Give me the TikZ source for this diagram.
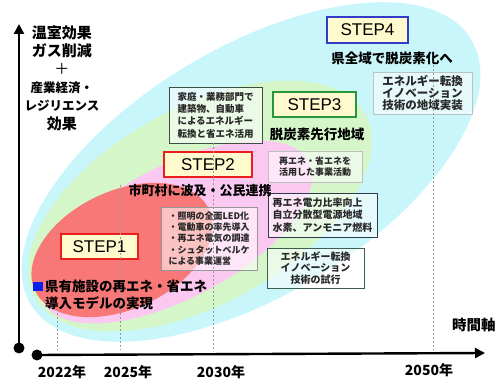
\documentclass[tikz,border=0pt]{standalone}
\usepackage{fontspec}
\setmainfont{Noto Sans CJK JP}
\newfontfamily\stepfont{Liberation Sans}
\usetikzlibrary{arrows.meta}
\definecolor{ecyan}{RGB}{200,246,250}
\definecolor{egreen}{RGB}{212,246,200}
\definecolor{epink}{RGB}{250,200,240}
\definecolor{ered}{RGB}{248,120,120}
\definecolor{stepfill}{RGB}{255,250,205}
\definecolor{stepblue}{RGB}{50,60,200}
\definecolor{stepgreen}{RGB}{40,150,60}
\definecolor{stepred}{RGB}{235,30,30}
\definecolor{bA}{RGB}{60,80,65}
\definecolor{bB}{RGB}{190,190,190}
\definecolor{bC}{RGB}{45,60,80}
\definecolor{bD}{RGB}{150,150,150}
\definecolor{bE}{RGB}{60,95,80}
\definecolor{bF}{RGB}{185,195,195}
\definecolor{sqblue}{RGB}{10,30,240}
\definecolor{boxtext}{RGB}{40,40,40}
\begin{document}
\begin{tikzpicture}[x=1pt,y=-1pt,
  stepbox/.style={draw, line width=1.4pt, fill=stepfill, inner sep=0pt,
    font=\stepfont\fontsize{17}{17}\selectfont},
  infobox/.style={draw, line width=0.8pt, fill=white, fill opacity=0.55, text opacity=1,
    inner sep=0pt, text=boxtext},
  biglabel/.style={font=\fontsize{13.5}{17}\selectfont\bfseries, inner sep=0pt},
  yearlabel/.style={font=\fontsize{14}{14}\selectfont\bfseries, inner sep=0pt},
  axis/.style={line width=2.4pt, -{Triangle[width=10pt,length=10pt]}},
  vdash/.style={gray!80, line width=0.6pt, dash pattern=on 2pt off 2pt}
]
\useasboundingbox (0,0) rectangle (496,379);

% ellipses
\fill[ecyan, rotate around={31:(251,172)}] (251,172) ellipse [x radius=257pt, y radius=124pt];
\fill[egreen, rotate around={29:(200,206)}] (200,206) ellipse [x radius=189pt, y radius=98pt];
\fill[epink, rotate around={28:(176,232)}] (176,232) ellipse [x radius=150pt, y radius=66pt];
\fill[ered, rotate around={25:(122,250)}] (122,250) ellipse [x radius=96pt, y radius=59pt];

% info boxes
\node[infobox, draw=bA, minimum width=93pt, minimum height=56pt, align=left,
  font=\fontsize{9.5}{12.3}\selectfont\bfseries] (boxA) at (215.5,115)
  {家庭・業務部門で\\建築物、自動車\\によるエネルギー\\転換と省エネ活用};
\node[infobox, draw=bB, minimum width=94pt, minimum height=31pt, align=center,
  font=\fontsize{9}{11}\selectfont\bfseries] (boxB) at (315,166.5)
  {再エネ・省エネを\\活用した事業活動};
\node[infobox, draw=bC, minimum width=109pt, minimum height=44pt, align=left,
  font=\fontsize{10}{12.5}\selectfont\bfseries] (boxC) at (322.5,215)
  {再エネ電力比率向上\\自立分散型電源地域\\水素、アンモニア燃料};
\node[infobox, draw=bD, minimum width=96pt, minimum height=63pt, align=left,
  font=\fontsize{9}{11.3}\selectfont\bfseries] (boxD) at (209,238.5)
  {・照明の全面LED化\\・電動車の率先導入\\・再エネ電気の調達\\・シュタットベルケ\\による事業運営};
\node[infobox, draw=bE, minimum width=97pt, minimum height=40pt, align=center,
  font=\fontsize{10}{11.5}\selectfont\bfseries] (boxE) at (315.5,268)
  {エネルギー転換\\イノベーション\\技術の試行};
\node[infobox, draw=bF, minimum width=99pt, minimum height=42pt, align=center,
  font=\fontsize{11.5}{12}\selectfont\bfseries] (boxF) at (422.5,93)
  {エネルギー転換\\イノベーション\\技術の地域実装};

% step boxes
\node[stepbox, draw=stepblue, minimum width=81pt, minimum height=26pt] (s4) at (367.5,30) {STEP4};
\node[stepbox, draw=stepgreen, minimum width=83pt, minimum height=25pt] (s3) at (314.5,104.5) {STEP3};
\node[stepbox, draw=stepred, minimum width=88pt, minimum height=25pt] (s2) at (208,164.5) {STEP2};
\node[stepbox, draw=stepred, minimum width=77pt, minimum height=25pt] (s1) at (99.5,246.5) {STEP1};

% dashed year lines
\coordinate (d22t) at (57,305);  \coordinate (d22b) at (57,350);
\coordinate (d25t) at (120,185); \coordinate (d25b) at (120,350);
\coordinate (d30t) at (213,143); \coordinate (d30b) at (213,350);
\coordinate (d50t) at (433,65);  \coordinate (d50b) at (433,350);
\draw[vdash] (d22t) -- (d22b);
\draw[vdash] (d25t) -- (d25b);
\draw[vdash] (d30t) -- (d30b);
\draw[vdash] (d50t) -- (d50b);

% labels
\node[biglabel] (l4) at (392,58) {県全域で脱炭素化へ};
\node[biglabel] (l3) at (317,134) {脱炭素先行地域};
\node[biglabel, font=\fontsize{13}{17}\selectfont\bfseries] (l2) at (200,191) {市町村に波及・公民連携};
\node[fill=sqblue, minimum width=10pt, minimum height=9pt, inner sep=0pt] (sq) at (38,286.5) {};
\node[biglabel, anchor=west, align=left] (l1) at (45,294.5) {県有施設の再エネ・省エネ\\導入モデルの実現};

% axes
\coordinate (yo) at (19,348); \coordinate (yt) at (19,24);
\coordinate (xo) at (37,355); \coordinate (xt) at (485,353);
\draw[axis] (yo) -- (yt);
\draw[axis] (xo) -- (xt);
\fill (yo) circle (5.5pt);
\fill (xo) circle (5.5pt);

\node[align=center, inner sep=0pt, font=\fontsize{15}{18.2}\selectfont\bfseries] (ylab) at (62,78)
  {温室効果\\ガス削減\\{\mdseries ＋}\\{\fontsize{12.5}{18.2}\selectfont 産業経済・}\\{\fontsize{12.5}{18.2}\selectfont レジリエンス}\\効果};
\node[anchor=west, inner sep=0pt, font=\fontsize{14.5}{15}\selectfont\bfseries] (xlab) at (452,325) {時間軸};

\node[yearlabel] (y22) at (62,372) {2022年};
\node[yearlabel] (y25) at (128,372) {2025年};
\node[yearlabel] (y30) at (221,372) {2030年};
\node[yearlabel] (y50) at (429,370) {2050年};
\end{tikzpicture}
\end{document}
